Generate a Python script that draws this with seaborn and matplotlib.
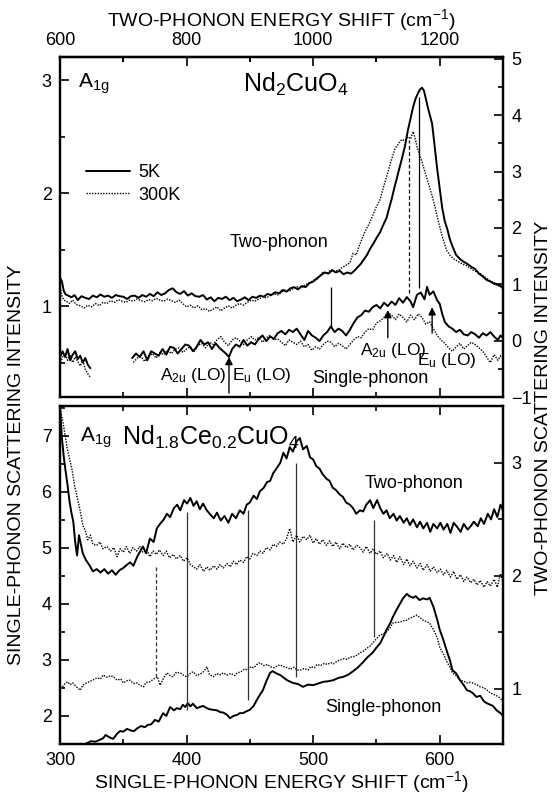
import numpy as np
import pandas as pd
import matplotlib
matplotlib.use("Agg")
import matplotlib.pyplot as plt
import seaborn as sns
from matplotlib.ticker import MultipleLocator, FixedLocator
from matplotlib.lines import Line2D

# ==========================================
# 1. Data
# ==========================================
# Nd2CuO4, two-phonon spectra: (two-phonon shift cm-1, two-phonon intensity)
nd2_two_5k = [
    (600, 1.12), (603, 1.05), (606, 0.88), (609, 0.82), (613, 0.80), (618, 0.77), (623, 0.81), (628, 0.72),
    (634, 0.79), (640, 0.76), (646, 0.74), (652, 0.80), (658, 0.77), (664, 0.82), (670, 0.78), (676, 0.80),
    (682, 0.76), (688, 0.81), (694, 0.79), (700, 0.78), (706, 0.74), (712, 0.79), (718, 0.80), (724, 0.76),
    (730, 0.81), (736, 0.78), (742, 0.83), (748, 0.79), (754, 0.86), (760, 0.81), (766, 0.84), (772, 0.90),
    (778, 0.93), (784, 0.86), (790, 0.83), (796, 0.88), (802, 0.80), (808, 0.84), (814, 0.79), (820, 0.78),
    (826, 0.81), (832, 0.73), (838, 0.77), (844, 0.70), (850, 0.76), (856, 0.74), (862, 0.78), (868, 0.72),
    (874, 0.76), (880, 0.70), (886, 0.73), (892, 0.77), (898, 0.72), (904, 0.78), (910, 0.76), (916, 0.80),
    (922, 0.78), (928, 0.83), (934, 0.81), (940, 0.86), (946, 0.84), (952, 0.90), (958, 0.87), (964, 0.93),
    (970, 0.95), (976, 0.91), (982, 0.97), (988, 0.95), (994, 1.02), (1000, 1.05), (1006, 1.10), (1012, 1.16),
    (1018, 1.21), (1024, 1.19), (1030, 1.25), (1036, 1.21), (1042, 1.24), (1048, 1.18), (1054, 1.21),
    (1060, 1.19), (1065, 1.24), (1070, 1.30), (1075, 1.36), (1080, 1.44), (1085, 1.52), (1090, 1.63),
    (1095, 1.72), (1100, 1.82), (1106, 1.93), (1111, 2.06), (1116, 2.18), (1120, 2.35), (1124, 2.51),
    (1128, 2.70), (1132, 2.87), (1136, 3.05), (1140, 3.22), (1145, 3.45), (1150, 3.75), (1154, 3.95),
    (1158, 4.15), (1162, 4.30), (1166, 4.40), (1169, 4.46), (1172, 4.49), (1175, 4.44), (1178, 4.30),
    (1181, 4.15), (1185, 3.98), (1188, 3.85), (1192, 3.45), (1196, 3.05), (1200, 2.70), (1204, 2.35),
    (1208, 2.12), (1212, 1.98), (1216, 1.80), (1221, 1.65), (1226, 1.52), (1232, 1.45), (1238, 1.40),
    (1244, 1.36), (1250, 1.31), (1256, 1.27), (1262, 1.19), (1268, 1.14), (1274, 1.08), (1280, 1.05),
    (1286, 1.01), (1292, 0.99), (1298, 0.96), (1300, 0.96),
]
nd2_two_300k = [
    (600, 0.95), (603, 0.80), (606, 0.72), (610, 0.70), (615, 0.66), (620, 0.72), (626, 0.64), (632, 0.62),
    (638, 0.58), (644, 0.63), (650, 0.60), (656, 0.66), (662, 0.62), (668, 0.68), (674, 0.66), (680, 0.71),
    (686, 0.68), (692, 0.73), (698, 0.70), (704, 0.68), (710, 0.72), (716, 0.70), (722, 0.74), (728, 0.71),
    (734, 0.69), (740, 0.73), (746, 0.71), (752, 0.75), (758, 0.72), (764, 0.70), (770, 0.74), (776, 0.71),
    (782, 0.68), (788, 0.72), (794, 0.66), (800, 0.60), (806, 0.63), (812, 0.58), (818, 0.62), (824, 0.55),
    (830, 0.57), (836, 0.52), (842, 0.56), (848, 0.60), (854, 0.53), (860, 0.58), (866, 0.62), (872, 0.58),
    (878, 0.63), (884, 0.66), (890, 0.63), (896, 0.68), (902, 0.72), (908, 0.70), (914, 0.74), (920, 0.78),
    (926, 0.76), (932, 0.80), (938, 0.83), (944, 0.81), (950, 0.86), (956, 0.90), (962, 0.88), (968, 0.92),
    (974, 0.96), (980, 0.93), (986, 0.98), (992, 1.02), (998, 1.05), (1004, 1.10), (1010, 1.15), (1016, 1.22),
    (1022, 1.20), (1028, 1.26), (1034, 1.23), (1040, 1.25), (1046, 1.30), (1052, 1.34), (1058, 1.38),
    (1063, 1.55), (1068, 1.52), (1074, 1.72), (1079, 1.86), (1084, 1.98), (1090, 2.11), (1095, 2.25),
    (1100, 2.38), (1106, 2.51), (1111, 2.72), (1117, 2.95), (1123, 3.18), (1129, 3.40), (1135, 3.50),
    (1140, 3.57), (1145, 3.55), (1150, 3.62), (1154, 3.58), (1158, 3.71), (1161, 3.60), (1164, 3.45),
    (1168, 3.30), (1172, 3.17), (1176, 3.02), (1180, 2.87), (1184, 2.72), (1188, 2.57), (1192, 2.40),
    (1196, 2.21), (1200, 2.02), (1205, 1.81), (1211, 1.60), (1216, 1.52), (1221, 1.46), (1227, 1.42),
    (1233, 1.38), (1238, 1.35), (1243, 1.33), (1249, 1.28), (1254, 1.24), (1259, 1.22), (1264, 1.19),
    (1270, 1.14), (1275, 1.10), (1280, 1.06), (1286, 1.03), (1291, 1.00), (1296, 0.95), (1300, 0.93),
]
# Nd2CuO4, single-phonon spectra: (single-phonon shift cm-1, single-phonon intensity)
nd2_one_5k = [
    (300.5, 0.56), (302, 0.60), (304, 0.55), (306, 0.62), (308, 0.52), (310, 0.57), (312, 0.60), (314, 0.53),
    (316, 0.56), (318, 0.50), (320, 0.54), (322, 0.48), (324, 0.45),
    (357, 0.54), (360, 0.58), (363, 0.55), (366, 0.60), (369, 0.52), (372, 0.60), (375, 0.58), (378, 0.56),
    (381, 0.62), (384, 0.57), (387, 0.64), (390, 0.63), (393, 0.58), (396, 0.62), (399, 0.66), (402, 0.65),
    (405, 0.60), (408, 0.64), (411, 0.70), (414, 0.66), (417, 0.68), (420, 0.62), (423, 0.67), (426, 0.63),
    (429, 0.60), (431, 0.58), (433.5, 0.55), (436, 0.62), (439, 0.66), (442, 0.64), (445, 0.70), (448, 0.65),
    (451, 0.68), (454, 0.66), (457, 0.71), (460, 0.74), (463, 0.69), (466, 0.73), (469, 0.71), (472, 0.76),
    (475, 0.78), (478, 0.75), (481, 0.79), (484, 0.77), (487, 0.80), (490, 0.75), (493, 0.70), (496, 0.78),
    (499, 0.74), (502, 0.72), (505, 0.69), (508, 0.74), (511, 0.77), (514, 0.82), (517, 0.77), (520, 0.80),
    (523, 0.78), (526, 0.74), (529, 0.79), (532, 0.85), (535, 0.90), (538, 0.92), (541, 0.96), (544, 0.95),
    (547, 0.99), (550, 1.01), (553, 0.98), (556, 1.03), (559, 1.00), (562, 1.04), (565, 1.01), (568, 1.07),
    (571, 1.03), (574, 1.08), (577, 1.04), (579, 0.99), (582, 1.10), (585, 1.12), (588, 1.06), (590, 1.17),
    (592, 1.10), (595, 1.13), (598, 1.05), (600, 1.02), (602, 0.93), (604, 0.86), (607, 0.82), (610, 0.80),
    (613, 0.77), (616, 0.79), (619, 0.75), (622, 0.74), (625, 0.77), (628, 0.75), (631, 0.72), (634, 0.76),
    (637, 0.74), (640, 0.77), (643, 0.73), (646, 0.70), (648, 0.74), (650, 0.72),
]
nd2_one_300k = [
    (300.5, 0.50), (302, 0.55), (304, 0.58), (306, 0.52), (308, 0.56), (310, 0.50), (312, 0.55), (314, 0.51),
    (316, 0.47), (318, 0.52), (320, 0.44), (322, 0.40), (324, 0.37),
    (358, 0.50), (361, 0.54), (364, 0.55), (367, 0.51), (370, 0.56), (373, 0.58), (376, 0.54), (379, 0.59),
    (382, 0.57), (385, 0.61), (388, 0.58), (391, 0.62), (394, 0.63), (397, 0.59), (400, 0.62), (403, 0.64),
    (406, 0.60), (409, 0.65), (412, 0.67), (415, 0.63), (418, 0.68), (421, 0.66), (424, 0.70), (427, 0.73),
    (430, 0.68), (433, 0.65), (436, 0.70), (439, 0.72), (442, 0.69), (445, 0.66), (448, 0.70), (451, 0.73),
    (454, 0.70), (457, 0.72), (460, 0.68), (463, 0.72), (466, 0.74), (469, 0.70), (472, 0.71), (475, 0.68),
    (478, 0.65), (481, 0.70), (484, 0.68), (487, 0.66), (490, 0.69), (493, 0.64), (496, 0.66), (499, 0.61),
    (502, 0.64), (505, 0.62), (508, 0.66), (511, 0.69), (514, 0.68), (517, 0.64), (520, 0.67), (523, 0.65),
    (526, 0.62), (529, 0.66), (532, 0.70), (535, 0.73), (538, 0.72), (541, 0.77), (544, 0.80), (547, 0.79),
    (550, 0.85), (553, 0.87), (556, 0.90), (559, 0.94), (562, 0.92), (565, 0.88), (568, 0.93), (571, 0.90),
    (574, 0.86), (577, 0.92), (580, 0.88), (583, 0.93), (586, 0.90), (589, 0.84), (592, 0.86), (595, 0.80),
    (598, 0.74), (601, 0.70), (604, 0.67), (607, 0.63), (610, 0.60), (613, 0.64), (616, 0.67), (619, 0.62),
    (622, 0.65), (625, 0.68), (628, 0.66), (631, 0.63), (634, 0.60), (637, 0.55), (640, 0.50), (643, 0.57),
    (646, 0.52), (648, 0.56), (650, 0.54),
]

# Nd1.8Ce0.2CuO4, two-phonon spectra
ndce_two_5k = [
    (600, 3.50), (603, 3.22), (606, 3.05), (609, 2.92), (612, 2.80), (615, 2.66), (618, 2.56), (621, 2.48),
    (624, 2.30), (627, 2.18), (630, 2.36), (633, 2.28), (636, 2.20), (641, 2.14), (647, 2.09), (652, 2.04),
    (658, 2.06), (664, 2.03), (670, 2.06), (676, 2.02), (682, 2.05), (688, 2.01), (694, 2.05), (700, 2.07),
    (706, 2.10), (711, 2.12), (716, 2.09), (722, 2.17), (727, 2.22), (731, 2.26), (736, 2.20), (742, 2.33),
    (748, 2.30), (753, 2.42), (758, 2.46), (764, 2.50), (769, 2.55), (774, 2.52), (780, 2.60), (785, 2.63),
    (790, 2.58), (796, 2.67), (801, 2.64), (806, 2.69), (811, 2.62), (816, 2.66), (821, 2.59), (826, 2.64),
    (832, 2.58), (838, 2.54), (843, 2.51), (848, 2.56), (854, 2.49), (860, 2.53), (866, 2.47), (872, 2.55),
    (878, 2.51), (884, 2.58), (890, 2.55), (895, 2.63), (900, 2.65), (906, 2.71), (911, 2.68), (916, 2.75),
    (922, 2.78), (927, 2.83), (932, 2.84), (937, 2.91), (942, 2.95), (948, 3.00), (953, 3.09), (958, 3.04),
    (963, 3.14), (968, 3.10), (974, 3.19), (979, 3.22), (984, 3.12), (990, 3.15), (995, 3.05), (1000, 3.03),
    (1005, 2.97), (1010, 2.95), (1015, 2.90), (1021, 2.86), (1026, 2.84), (1031, 2.78), (1036, 2.76),
    (1042, 2.72), (1047, 2.70), (1052, 2.65), (1058, 2.63), (1063, 2.60), (1068, 2.55), (1074, 2.58),
    (1079, 2.57), (1084, 2.63), (1090, 2.67), (1095, 2.60), (1101, 2.67), (1106, 2.60), (1111, 2.55),
    (1116, 2.58), (1121, 2.51), (1127, 2.55), (1132, 2.49), (1137, 2.53), (1143, 2.47), (1148, 2.51),
    (1153, 2.45), (1158, 2.50), (1164, 2.43), (1169, 2.48), (1174, 2.42), (1180, 2.47), (1185, 2.39),
    (1190, 2.46), (1196, 2.42), (1201, 2.47), (1206, 2.41), (1212, 2.46), (1217, 2.38), (1222, 2.47),
    (1228, 2.43), (1233, 2.39), (1238, 2.46), (1244, 2.41), (1249, 2.44), (1254, 2.48), (1260, 2.44),
    (1265, 2.51), (1270, 2.46), (1276, 2.55), (1281, 2.50), (1286, 2.59), (1291, 2.52), (1296, 2.63),
    (1300, 2.58),
]
ndce_two_300k = [
    (600, 3.48), (605, 3.35), (611, 3.14), (615, 3.04), (619, 2.94), (623, 2.80), (627, 2.70), (631, 2.60),
    (636, 2.45), (640, 2.40), (644, 2.32), (648, 2.36), (652, 2.28), (658, 2.27), (663, 2.30), (668, 2.24),
    (674, 2.26), (680, 2.22), (685, 2.25), (690, 2.17), (695, 2.24), (700, 2.21), (705, 2.26), (710, 2.20),
    (715, 2.25), (721, 2.22), (726, 2.26), (731, 2.21), (737, 2.23), (742, 2.17), (747, 2.22), (752, 2.19),
    (757, 2.23), (763, 2.18), (768, 2.22), (773, 2.16), (779, 2.19), (784, 2.15), (790, 2.18), (795, 2.13),
    (801, 2.16), (806, 2.10), (811, 2.08), (816, 2.06), (821, 2.10), (827, 2.04), (832, 2.08), (837, 2.05),
    (843, 2.09), (848, 2.06), (853, 2.10), (858, 2.07), (864, 2.11), (869, 2.08), (874, 2.13), (879, 2.10),
    (884, 2.14), (890, 2.12), (895, 2.17), (900, 2.15), (905, 2.20), (911, 2.18), (916, 2.22), (921, 2.20),
    (926, 2.25), (932, 2.23), (937, 2.28), (942, 2.26), (947, 2.30), (953, 2.28), (958, 2.33), (963, 2.42),
    (968, 2.30), (974, 2.36), (979, 2.30), (984, 2.35), (990, 2.32), (995, 2.36), (1000, 2.29), (1005, 2.33),
    (1010, 2.28), (1015, 2.32), (1021, 2.27), (1026, 2.31), (1031, 2.26), (1036, 2.30), (1042, 2.24),
    (1047, 2.29), (1053, 2.25), (1058, 2.28), (1063, 2.23), (1069, 2.27), (1074, 2.25), (1079, 2.21),
    (1084, 2.26), (1090, 2.20), (1095, 2.24), (1100, 2.19), (1106, 2.22), (1111, 2.16), (1117, 2.20),
    (1122, 2.14), (1127, 2.18), (1132, 2.12), (1137, 2.17), (1143, 2.10), (1148, 2.15), (1153, 2.09),
    (1158, 2.13), (1164, 2.07), (1169, 2.11), (1174, 2.05), (1180, 2.10), (1185, 2.04), (1190, 2.08),
    (1196, 2.03), (1201, 2.06), (1206, 2.01), (1211, 2.05), (1217, 1.99), (1222, 2.04), (1227, 1.97),
    (1233, 2.01), (1238, 1.95), (1243, 1.99), (1249, 1.94), (1254, 1.97), (1259, 1.92), (1264, 1.96),
    (1270, 1.90), (1275, 1.95), (1280, 1.91), (1286, 1.97), (1291, 1.90), (1296, 2.02), (1300, 1.95),
]
# Nd1.8Ce0.2CuO4, single-phonon spectra
ndce_one_5k = [
    (318, 1.45), (320, 1.50), (324.5, 1.55), (328, 1.54), (331, 1.57), (334, 1.60), (336, 1.66), (339, 1.62),
    (342, 1.59), (345, 1.68), (347.4, 1.73), (350, 1.72), (353, 1.77), (356, 1.74), (358.5, 1.73), (361, 1.78),
    (364, 1.82), (367, 1.80), (369.5, 1.84), (372, 1.85), (375, 1.93), (378, 1.90), (381.4, 2.05), (384, 2.00),
    (387, 2.16), (390, 2.10), (392.4, 2.14), (395, 2.12), (397, 2.20), (399, 2.16), (401, 2.23), (403, 2.17),
    (405, 2.22), (408, 2.14), (410.6, 2.16), (413, 2.18), (416, 2.14), (418, 2.12), (421, 2.11), (424, 2.10),
    (426.4, 2.07), (429, 2.06), (432, 2.02), (434.3, 1.96), (437, 2.00), (440, 2.02), (442, 2.05),
    (444.5, 2.05), (447, 2.08), (450, 2.11), (453, 2.18), (455.6, 2.29), (458, 2.38), (460.3, 2.46),
    (463, 2.62), (466, 2.77), (468, 2.80), (471, 2.76), (474, 2.73), (477, 2.68), (479.3, 2.64), (482, 2.61),
    (484, 2.59), (488, 2.57), (492, 2.52), (496, 2.56), (500, 2.55), (504, 2.58), (508, 2.61), (512, 2.62),
    (516, 2.64), (520, 2.68), (524, 2.70), (528, 2.74), (531, 2.79), (535, 2.86), (539, 2.95), (543, 3.05),
    (547, 3.13), (550, 3.22), (553, 3.30), (556, 3.44), (558, 3.54), (561, 3.66), (563, 3.77), (566, 3.90),
    (569, 4.02), (571, 4.10), (574, 4.18), (576, 4.14), (579, 4.11), (581, 4.14), (584, 4.07), (587, 4.10),
    (590, 4.08), (592, 4.11), (595, 3.95), (598, 3.72), (600, 3.54), (603, 3.35), (606, 3.13), (608, 3.00),
    (610, 2.82), (613, 2.76), (616, 2.64), (619, 2.55), (621.5, 2.46), (624, 2.44), (626, 2.41), (629, 2.34),
    (632, 2.36), (635, 2.26), (637, 2.23), (640, 2.20), (642, 2.18), (645, 2.10), (648, 2.05), (650, 2.00),
]
ndce_one_300k = [
    (300, 2.50), (302, 2.52), (304, 2.58), (306, 2.61), (308, 2.56), (310, 2.59), (313, 2.52), (316, 2.46),
    (318, 2.55), (321, 2.59), (324, 2.62), (326, 2.64), (329, 2.68), (332, 2.66), (334, 2.73), (337, 2.69),
    (340, 2.72), (342, 2.70), (345, 2.64), (348, 2.66), (350, 2.59), (353, 2.63), (355, 2.64), (358, 2.58),
    (361, 2.59), (363, 2.55), (366, 2.52), (368, 2.60), (371, 2.61), (374, 2.66), (377, 2.70), (379, 2.55),
    (382, 2.68), (384.5, 2.77), (387, 2.72), (389, 2.70), (392, 2.78), (395, 2.77), (398, 2.72), (400, 2.70),
    (403, 2.76), (405, 2.79), (408, 2.72), (411, 2.75), (414, 2.80), (416, 2.88), (418, 2.74), (421, 2.70),
    (424, 2.76), (426, 2.73), (429, 2.77), (432, 2.73), (435, 2.76), (438, 2.72), (440, 2.77), (443, 2.79),
    (446, 2.84), (448, 2.82), (451, 2.88), (453, 2.86), (456, 2.93), (458, 2.95), (461, 2.90), (464, 2.92),
    (466, 2.88), (469, 2.86), (472, 2.90), (474, 2.91), (477, 2.88), (480, 2.86), (482, 2.83), (485, 2.87),
    (487, 2.82), (490, 2.82), (493, 2.85), (496, 2.82), (498, 2.88), (501, 2.86), (503, 2.92), (506, 2.90),
    (509, 2.94), (511, 2.92), (514, 2.95), (516, 2.93), (519, 2.98), (521, 3.00), (524, 3.02), (527, 3.01),
    (529, 3.05), (532, 3.06), (535, 3.09), (537, 3.13), (540, 3.16), (542.5, 3.21), (545, 3.25), (547, 3.30),
    (550, 3.38), (553, 3.45), (555, 3.46), (558, 3.50), (561, 3.58), (563, 3.66), (566, 3.67), (569, 3.68),
    (571, 3.70), (574, 3.71), (576, 3.74), (579, 3.77), (582, 3.80), (584, 3.76), (587, 3.71), (590, 3.68),
    (592, 3.66), (595, 3.54), (598, 3.40), (600, 3.23), (603, 3.10), (606, 2.95), (608, 2.88), (610, 2.77),
    (613, 2.72), (616, 2.64), (619, 2.62), (621.5, 2.59), (624, 2.60), (626, 2.59), (629, 2.56), (632, 2.52),
    (635, 2.50), (637, 2.47), (640, 2.41), (643, 2.38), (646, 2.35), (649, 2.29), (650, 2.28),
]

# vertical guide lines (single-phonon shift, left-axis span), and LO arrows
top_lines_x = [514.0, 575.7, 583.6]
top_lines_lo = [0.81, 1.12, 1.16]
top_lines_hi = [1.17, 2.47, 2.85]
top_lines_dashed = [False, True, False]

bot_lines_x = [375.8, 400.3, 448.5, 486.4, 548.0]
bot_lines_lo = [2.70, 2.11, 2.29, 2.70, 3.41]
bot_lines_hi = [4.70, 5.64, 5.68, 6.52, 5.50]
bot_lines_dashed = [True, False, False, False, False]

arrow_x = [433.5, 559.0, 594.0]
arrow_lo = [0.23, 0.72, 0.76]
arrow_hi = [0.55, 0.965, 0.99]

two_ticks_major = [600, 800, 1000, 1200]
two_ticks_minor = [700, 900, 1100, 1300]

# ==========================================
# 2. Style
# ==========================================
sns.set_style("ticks")
plt.rcParams['font.family'] = ['Liberation Sans', 'DejaVu Sans']
plt.rcParams['mathtext.default'] = 'regular'
plt.rcParams['axes.linewidth'] = 1.6
plt.rcParams['axes.edgecolor'] = 'black'
plt.rcParams['xtick.color'] = 'black'
plt.rcParams['ytick.color'] = 'black'
plt.rcParams['text.color'] = 'black'
plt.rcParams['axes.labelcolor'] = 'black'

SOLID = dict(lw=1.4, linestyle='-')
DOTTED = dict(lw=1.0, linestyle=(0, (1, 1)))
FS = 13
LAB = 14


def draw_curve(ax, pts, style, x_scale=1.0):
    df = pd.DataFrame(pts, columns=['shift', 'intensity'])
    df['shift'] = df['shift'] * x_scale
    df['seg'] = (df['shift'].diff() > 15).cumsum()
    sns.lineplot(data=df, x='shift', y='intensity', units='seg', estimator=None,
                 sort=False, ax=ax, color='black', **style)
    ax.set_xlabel('')
    ax.set_ylabel('')


# ==========================================
# 3. Figure
# ==========================================
fig = plt.figure(figsize=(5.53, 7.95), dpi=100)
ax_top = fig.add_axes([0.1085, 0.5006, 0.8011, 0.4277])
ax_bot = fig.add_axes([0.1085, 0.0642, 0.8011, 0.4252])
axr_top = ax_top.twinx()
axr_bot = ax_bot.twinx()

draw_curve(axr_top, nd2_two_5k, SOLID, 0.5)
draw_curve(axr_top, nd2_two_300k, DOTTED, 0.5)
draw_curve(ax_top, nd2_one_5k, SOLID)
draw_curve(ax_top, nd2_one_300k, DOTTED)

draw_curve(axr_bot, ndce_two_5k, SOLID, 0.5)
draw_curve(axr_bot, ndce_two_300k, DOTTED, 0.5)
draw_curve(ax_bot, ndce_one_5k, SOLID)
draw_curve(ax_bot, ndce_one_300k, DOTTED)

# guide lines
for x, lo, hi, d in zip(top_lines_x, top_lines_lo, top_lines_hi, top_lines_dashed):
    ax_top.vlines(x, lo, hi, color='black', lw=0.9, linestyles=(0, (3, 2)) if d else 'solid')
for x, lo, hi, d in zip(bot_lines_x, bot_lines_lo, bot_lines_hi, bot_lines_dashed):
    ax_bot.vlines(x, lo, hi, color='#333333', lw=0.9, linestyles=(0, (3, 2)) if d else 'solid')
for x, lo, hi in zip(arrow_x, arrow_lo, arrow_hi):
    ax_top.annotate('', xy=(x, hi), xytext=(x, lo),
                    arrowprops=dict(arrowstyle='-|>', color='black', lw=1.0,
                                    mutation_scale=11, shrinkA=0, shrinkB=0))

# ==========================================
# 4. Axes, ticks
# ==========================================
for ax in (ax_top, ax_bot):
    ax.set_xlim(300, 650)
    ax.xaxis.set_major_locator(MultipleLocator(100))
    ax.xaxis.set_minor_locator(MultipleLocator(50))
    ax.tick_params(axis='x', which='both', direction='in', top=True, bottom=True,
                   width=1.2, labelsize=FS, pad=6)
    ax.tick_params(axis='y', which='both', direction='in', left=True, right=False,
                   width=1.2, labelsize=FS, pad=6)
    ax.tick_params(which='major', length=6.5)
    ax.tick_params(which='minor', length=3.6)
for ax in (axr_top, axr_bot):
    ax.tick_params(axis='y', which='both', direction='in', right=True, left=False,
                   width=1.2, labelsize=FS, pad=6)
    ax.tick_params(which='major', length=6.5)
    ax.tick_params(which='minor', length=3.6)

ax_top.tick_params(axis='x', labelbottom=False, top=False)
ax_top.set_ylim(0.195, 3.205)
ax_top.yaxis.set_major_locator(MultipleLocator(1))
ax_top.yaxis.set_minor_locator(MultipleLocator(0.5))
axr_top.set_ylim(-1.0, 5.035)
axr_top.yaxis.set_major_locator(MultipleLocator(1))
axr_top.yaxis.set_minor_locator(MultipleLocator(0.5))

ax_bot.set_ylim(1.5, 7.536)
ax_bot.yaxis.set_major_locator(MultipleLocator(1))
ax_bot.yaxis.set_minor_locator(MultipleLocator(0.5))
axr_bot.set_ylim(0.513, 3.504)
axr_bot.yaxis.set_major_locator(MultipleLocator(1))
axr_bot.yaxis.set_minor_locator(MultipleLocator(0.5))

secax = ax_top.secondary_xaxis('top', functions=(lambda x: 2 * x, lambda x: x / 2))
secax.xaxis.set_major_locator(FixedLocator(two_ticks_major))
secax.xaxis.set_minor_locator(FixedLocator(two_ticks_minor))
secax.tick_params(which='both', direction='in', width=1.2, labelsize=FS, pad=6)
secax.tick_params(which='major', length=6.5)
secax.tick_params(which='minor', length=3.6)
secax.set_xlabel('TWO-PHONON ENERGY SHIFT (cm$^{-1}$)', fontsize=LAB, labelpad=4)

ax_bot.set_xlabel('SINGLE-PHONON ENERGY SHIFT (cm$^{-1}$)', fontsize=LAB, labelpad=0)

for ax in (ax_top, ax_bot, axr_top, axr_bot):
    for sp in ax.spines.values():
        sp.set_linewidth(1.6)
for sp in secax.spines.values():
    sp.set_linewidth(1.6)

fig.text(0.03, 0.415, 'SINGLE-PHONON SCATTERING INTENSITY', rotation=90,
         ha='center', va='center', fontsize=LAB)
fig.text(0.982, 0.487, 'TWO-PHONON SCATTERING INTENSITY', rotation=90,
         ha='center', va='center', fontsize=LAB)

# ==========================================
# 5. Annotations
# ==========================================
ax_top.text(314.2, 2.93, 'A$_{1g}$', fontsize=15, va='baseline')
ax_top.text(444.5, 2.894, 'Nd$_2$CuO$_4$', fontsize=18, va='baseline')
ax_top.text(434.3, 1.52, 'Two-phonon', fontsize=FS, va='baseline')
ax_top.text(499.0, 0.32, 'Single-phonon', fontsize=FS, va='baseline')
ax_top.text(431.0, 0.345, 'A$_{2u}$ (LO)', fontsize=12.5, va='baseline', ha='right')
ax_top.text(436.0, 0.345, 'E$_u$ (LO)', fontsize=12.5, va='baseline')
ax_top.text(537.0, 0.566, 'A$_{2u}$ (LO)', fontsize=12.5, va='baseline')
ax_top.text(582.0, 0.478, 'E$_u$ (LO)', fontsize=12.5, va='baseline')

ax_bot.text(315.8, 6.89, 'A$_{1g}$', fontsize=15, va='baseline')
ax_bot.text(349.0, 6.84, 'Nd$_{1.8}$Ce$_{0.2}$CuO$_4$', fontsize=18, va='baseline')
ax_bot.text(541.0, 6.07, 'Two-phonon', fontsize=FS, va='baseline')
ax_bot.text(509.3, 2.07, 'Single-phonon', fontsize=FS, va='baseline')

handles = [Line2D([], [], color='black', **SOLID), Line2D([], [], color='black', **DOTTED)]
ax_top.legend(handles, ['5K', '300K'], loc='upper left', bbox_to_anchor=(0.0587, 0.684),
              frameon=False, fontsize=FS, handlelength=2.45, handletextpad=0.45,
              labelspacing=0.28, borderpad=0, borderaxespad=0)

fig.savefig('out.png', dpi=100)
